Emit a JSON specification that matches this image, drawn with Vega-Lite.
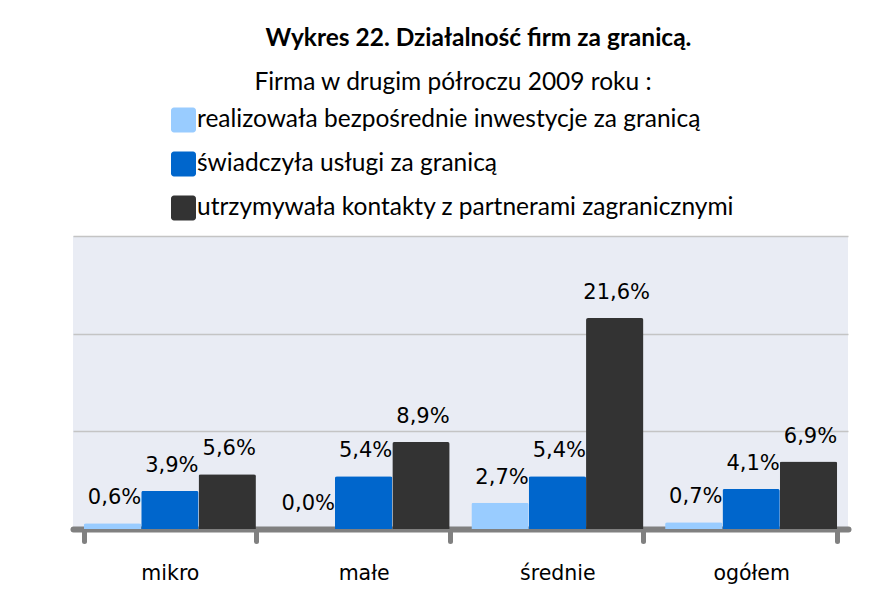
{
  "$schema": "https://vega.github.io/schema/vega-lite/v6.json",
  "width": 775,
  "height": 293,
  "autosize": {"type": "none"},
  "padding": {"left": 73, "top": 236, "right": 45, "bottom": 63},
  "background": "white",
  "config": {
    "locale": {"number": {"decimal": ",", "thousands": "\u00a0", "grouping": [3], "currency": ["", " zł"]}},
    "view": {"fill": "#e9ecf4", "stroke": null}
  },
  "title": {
    "text": "Wykres 22. Działalność firm za granicą.",
    "font": "Lato",
    "fontSize": 24.5,
    "fontWeight": "bold",
    "color": "#000000",
    "anchor": "middle",
    "dx": 18,
    "offset": 20
  },
  "data": {
    "values": [
      {"kategoria": "mikro", "seria": "realizowała bezpośrednie inwestycje za granicą", "wartosc": 0.006},
      {"kategoria": "mikro", "seria": "świadczyła usługi za granicą", "wartosc": 0.039},
      {"kategoria": "mikro", "seria": "utrzymywała kontakty z partnerami zagranicznymi", "wartosc": 0.056},
      {"kategoria": "małe", "seria": "realizowała bezpośrednie inwestycje za granicą", "wartosc": 0.0},
      {"kategoria": "małe", "seria": "świadczyła usługi za granicą", "wartosc": 0.054},
      {"kategoria": "małe", "seria": "utrzymywała kontakty z partnerami zagranicznymi", "wartosc": 0.089},
      {"kategoria": "średnie", "seria": "realizowała bezpośrednie inwestycje za granicą", "wartosc": 0.027},
      {"kategoria": "średnie", "seria": "świadczyła usługi za granicą", "wartosc": 0.054},
      {"kategoria": "średnie", "seria": "utrzymywała kontakty z partnerami zagranicznymi", "wartosc": 0.216},
      {"kategoria": "ogółem", "seria": "realizowała bezpośrednie inwestycje za granicą", "wartosc": 0.007},
      {"kategoria": "ogółem", "seria": "świadczyła usługi za granicą", "wartosc": 0.041},
      {"kategoria": "ogółem", "seria": "utrzymywała kontakty z partnerami zagranicznymi", "wartosc": 0.069}
    ]
  },
  "encoding": {
    "x": {
      "field": "kategoria",
      "type": "nominal",
      "sort": ["mikro", "małe", "średnie", "ogółem"],
      "scale": {"paddingInner": 0.112, "paddingOuter": 0.056},
      "axis": {
        "title": null,
        "labelAngle": 0,
        "labelFont": "DejaVu Sans",
        "labelFontSize": 20.5,
        "labelColor": "#000000",
        "labelPadding": 22,
        "tickBand": "extent",
        "tickSize": 12,
        "tickWidth": 5,
        "tickColor": "#808080",
        "tickCap": "round",
        "domainColor": "#808080",
        "domainWidth": 6,
        "domainCap": "round",
        "grid": false
      }
    },
    "xOffset": {
      "field": "seria",
      "type": "nominal",
      "sort": ["realizowała bezpośrednie inwestycje za granicą", "świadczyła usługi za granicą", "utrzymywała kontakty z partnerami zagranicznymi"],
      "scale": {"paddingInner": 0, "paddingOuter": 0}
    },
    "y": {
      "field": "wartosc",
      "type": "quantitative",
      "scale": {"domain": [0, 0.3]},
      "axis": {
        "values": [0.1, 0.2, 0.3],
        "grid": true,
        "gridColor": "#c4c4c4",
        "gridWidth": 1.5,
        "labels": false,
        "ticks": false,
        "domain": false,
        "title": null
      }
    }
  },
  "layer": [
    {
      "mark": {"type": "bar", "cornerRadiusTopLeft": 2, "cornerRadiusTopRight": 2},
      "encoding": {
        "color": {
          "field": "seria",
          "type": "nominal",
          "scale": {
            "domain": ["realizowała bezpośrednie inwestycje za granicą", "świadczyła usługi za granicą", "utrzymywała kontakty z partnerami zagranicznymi"],
            "range": ["#99ccff", "#0066cc", "#333333"]
          },
          "legend": {
            "orient": "none",
            "legendX": 98,
            "legendY": -165,
            "padding": 0,
            "title": "Firma w drugim półroczu 2009 roku :",
            "titleFont": "Lato",
            "titleFontSize": 24.5,
            "titleFontWeight": "normal",
            "titleColor": "#000000",
            "titleAnchor": "middle",
            "titleLimit": 1000,
            "titlePadding": 12,
            "labelFont": "Lato",
            "labelFontSize": 24.5,
            "labelColor": "#000000",
            "labelLimit": 0,
            "labelOffset": 1,
            "symbolType": "M -0.76 -1 L 0.76 -1 A 0.24 0.24 0 0 1 1 -0.76 L 1 0.76 A 0.24 0.24 0 0 1 0.76 1 L -0.76 1 A 0.24 0.24 0 0 1 -1 0.76 L -1 -0.76 A 0.24 0.24 0 0 1 -0.76 -1 Z",
            "symbolSize": 625,
            "symbolStrokeWidth": 0,
            "symbolOpacity": 1,
            "rowPadding": 18
          }
        }
      }
    },
    {
      "mark": {"type": "text", "font": "DejaVu Sans", "fontSize": 21, "color": "#000000", "baseline": "alphabetic", "dy": -19, "dx": 2},
      "encoding": {
        "text": {"field": "wartosc", "type": "quantitative", "format": ".1%"}
      }
    }
  ]
}
